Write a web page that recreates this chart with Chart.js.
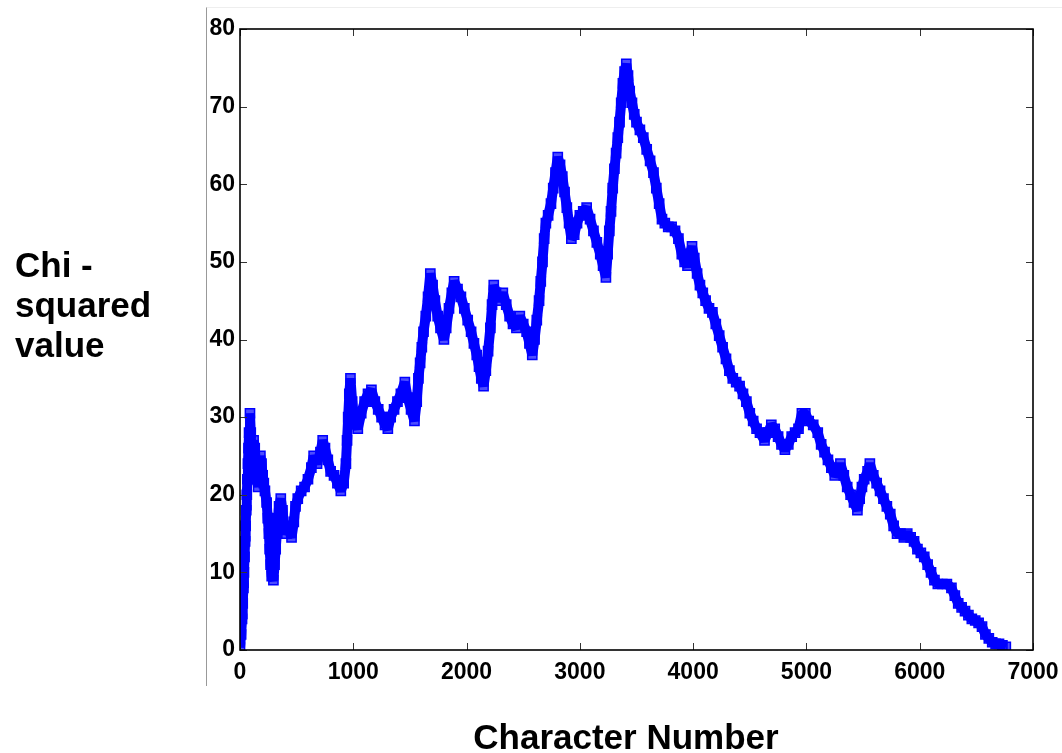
<!DOCTYPE html>
<html>
<head>
<meta charset="utf-8">
<script src="https://cdn.jsdelivr.net/npm/chart.js@4.4.1/dist/chart.umd.min.js"></script>
<style>
  html, body { margin: 0; padding: 0; background: #fff; }
  #wrap { position: relative; width: 1062px; height: 753px; overflow: hidden; }
  #chiChart { position: absolute; left: 0; top: 0; }
  .frame { position: absolute; left: 206px; top: 7px; width: 860px; height: 678px;
           border-left: 1px solid #999; border-top: 1px solid #eee; }
  .ytitle { position: absolute; left: 15px; top: 245px; font: bold 35px "Liberation Sans", Arial, sans-serif;
            line-height: 40px; color: #000; }
  .xtitle { position: absolute; left: 0; width: 1252px; top: 719px; text-align: center;
            font: bold 35px "Liberation Sans", Arial, sans-serif; line-height: 36px; color: #000; }
</style>
</head>
<body>
<div id="wrap">
  <div class="frame"></div>
  <canvas id="chiChart" width="1062" height="753"></canvas>
  <div class="ytitle">Chi -<br>squared<br>value</div>
  <div class="xtitle">Character Number</div>
</div>
<script>
// valores
const charNumbers = [0,10,18,24,30,35,40,45,50,55,60,65,70,75,80,88,95,100,110,120,130,140,150,160,170,180,190,200,210,220,235,245,255,262,270,280,295,305,315,325,335,345,360,375,390,410,430,455,475,490,510,540,570,600,630,650,680,710,730,750,775,800,830,860,890,915,935,945,955,965,975,990,1010,1040,1070,1100,1130,1160,1190,1220,1250,1280,1305,1330,1360,1390,1420,1455,1480,1510,1540,1560,1575,1590,1605,1620,1640,1660,1680,1700,1720,1745,1770,1800,1820,1845,1870,1890,1920,1950,1980,2010,2040,2065,2090,2110,2130,2150,2170,2190,2210,2225,2240,2260,2290,2320,2350,2380,2410,2440,2470,2500,2530,2555,2580,2600,2620,2640,2655,2670,2685,2700,2720,2745,2765,2785,2805,2825,2845,2865,2885,2905,2925,2950,2975,3000,3030,3060,3090,3120,3150,3180,3205,3230,3245,3260,3275,3290,3305,3320,3335,3350,3365,3380,3395,3410,3425,3440,3460,3480,3500,3530,3560,3590,3620,3650,3675,3700,3725,3750,3780,3810,3840,3870,3900,3925,3950,3970,3990,4010,4035,4060,4085,4110,4140,4170,4200,4230,4260,4290,4320,4350,4380,4410,4440,4470,4500,4530,4560,4590,4630,4660,4690,4720,4750,4780,4810,4840,4870,4900,4930,4960,4990,5020,5060,5100,5130,5160,5190,5220,5250,5280,5300,5330,5360,5390,5420,5450,5470,5490,5510,5540,5560,5590,5620,5650,5680,5710,5740,5770,5800,5830,5860,5890,5920,5950,5980,6010,6040,6070,6100,6130,6160,6200,6240,6280,6310,6340,6370,6400,6430,6460,6490,6520,6550,6580,6610,6640,6670,6700,6730,6760];
const chiSquared = [0.3,2,4,6,8,10,12,14,16,18,20,22,24,26,28,30.5,28,25.5,24,27,26,24,22,21,23,25,24,22.5,21.5,20.5,19,17,15,13,11,9.5,9,11,13,15,17,18.5,19.5,18,16,15,15.5,14.5,16.5,18.5,19.5,20.5,21,22,23.5,25,24,25.5,27,26,24.5,23,22.5,21.5,20.5,21.5,24,27,30,33,35,32,29.5,28.5,30.5,32,33,33.5,32,31,30,29,28.5,30,31,32,33,34.5,32.5,31,29.5,32,35,37,39,41,43,45.5,48.5,47,45,43,41.5,40,41.5,44,46,47.5,46.5,45.5,44,42.5,41,39.5,38,36.5,35,34,36,38.5,41.5,44.5,47,46,45,46,44.5,43,42,41.5,43,42,41,39.5,38,40,42.5,45,47.5,50,53,55,56,57.5,59.5,61.5,63.5,62.5,61,59,57,55,53,53.5,55,56,56.5,57,55.5,54,52.5,51,49.5,48,51,54,56.5,59.5,62,64,66,68,70.5,73,74.5,75.5,74,72,70.5,69,68,67,66,64.5,63,61.5,59.5,57.5,55.5,55,54.5,54.5,54,53,51,50,49.5,51,52,50.5,48.5,47,46,45,44,43.5,42,40.5,39,37.5,36,35,34.5,34,33,32,30.5,29.5,28.5,28,27,28,29,28.5,27.5,26.5,25.8,26.5,27.5,28,28.5,30.5,30.5,29.5,29,28,26.5,25.5,24.5,23.5,22.5,23,24,22.5,21,20,19,18,19.5,21,22,23,24,22.5,21.5,20.5,19.5,18.5,17.5,16,15,15,14.5,15,14.5,14,13,12.5,12,11,10,9,8.5,8.5,8.5,8,7,6,5.5,5,4.5,4,3.8,3.5,3,2,1.5,1,0.8,0.8,0.6,0.4];

const xTickValues = [0, 1000, 2000, 3000, 4000, 5000, 6000, 7000];
const yTickValues = [0, 10, 20, 30, 40, 50, 60, 70, 80];

const puntos = charNumbers.map((x, i) => ({ x: x, y: chiSquared[i] }));

// marco tipo matlab con ticks hacia adentro
const marcoEjes = {
  id: 'marcoEjes',
  afterDatasetsDraw(chart) {
    const { ctx, chartArea: a, scales: { x, y } } = chart;
    ctx.save();
    ctx.lineWidth = 1;
    ctx.strokeStyle = '#333';
    ctx.beginPath();
    xTickValues.forEach(v => {
      const px = Math.round(x.getPixelForValue(v)) + 0.5;
      ctx.moveTo(px, a.bottom); ctx.lineTo(px, a.bottom - 7);
      ctx.moveTo(px, a.top); ctx.lineTo(px, a.top + 7);
    });
    yTickValues.forEach(v => {
      const py = Math.round(y.getPixelForValue(v)) + 0.5;
      ctx.moveTo(a.left, py); ctx.lineTo(a.left + 7, py);
      ctx.moveTo(a.right, py); ctx.lineTo(a.right - 7, py);
    });
    ctx.stroke();
    ctx.lineWidth = 1.6;
    ctx.strokeStyle = '#000';
    ctx.strokeRect(a.left, a.top, a.right - a.left, a.bottom - a.top);
    ctx.restore();
  }
};

const fuenteTicks = { family: '"Liberation Sans", Arial, sans-serif', size: 23, weight: 'bold' };

new Chart(document.getElementById('chiChart'), {
  type: 'scatter',
  data: {
    datasets: [{
      data: puntos,
      pointStyle: 'rect',
      pointRadius: 6.5,
      pointBorderWidth: 1.5,
      pointBorderColor: '#0000ff',
      pointBackgroundColor: 'rgba(0,0,255,0.7)',
      showLine: true,
      borderColor: '#0000ff',
      borderWidth: 10,
      borderJoinStyle: 'bevel'
    }]
  },
  options: {
    responsive: false,
    animation: false,
    layout: { padding: { left: 0, top: 29, right: 29, bottom: 0 } },
    plugins: { legend: { display: false }, tooltip: { enabled: false } },
    scales: {
      x: {
        type: 'linear',
        min: 0, max: 7000,
        afterBuildTicks: s => { s.ticks = xTickValues.map(v => ({ value: v })); },
        afterFit: s => { s.height = 103; s.paddingRight = 0; s.paddingLeft = 0; },
        grid: { display: false, drawTicks: false },
        border: { display: false },
        ticks: { color: '#000', font: fuenteTicks, padding: 9, maxRotation: 0, callback: v => String(v) }
      },
      y: {
        type: 'linear',
        min: 0, max: 80,
        afterBuildTicks: s => { s.ticks = yTickValues.map(v => ({ value: v })); },
        afterFit: s => { s.width = 240; s.paddingTop = 0; s.paddingBottom = 0; },
        grid: { display: false, drawTicks: false },
        border: { display: false },
        ticks: { color: '#000', font: fuenteTicks, padding: 5, callback: v => String(v) }
      }
    }
  },
  plugins: [marcoEjes]
});
</script>
</body>
</html>
